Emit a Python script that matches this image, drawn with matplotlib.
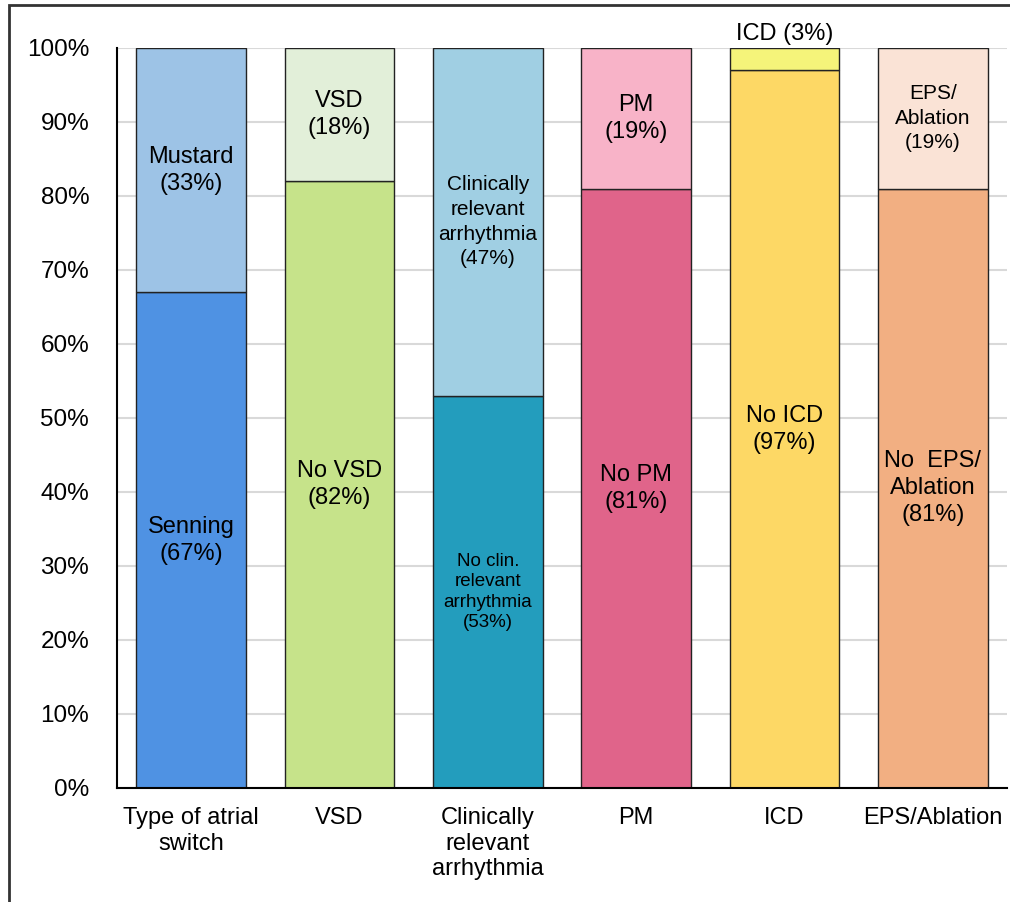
import matplotlib.pyplot as plt
from matplotlib.patches import Rectangle

plt.rcParams['font.family'] = ['Liberation Sans', 'DejaVu Sans']

categories = ['Type of atrial\nswitch', 'VSD', 'Clinically\nrelevant\narrhythmia', 'PM', 'ICD', 'EPS/Ablation']
lower_vals = [67, 82, 53, 81, 97, 81]
upper_vals = [33, 18, 47, 19, 3, 19]
lower_labels = ['Senning\n(67%)', 'No VSD\n(82%)', 'No clin.\nrelevant\narrhythmia\n(53%)',
                'No PM\n(81%)', 'No ICD\n(97%)', 'No  EPS/\nAblation\n(81%)']
upper_labels = ['Mustard\n(33%)', 'VSD\n(18%)', 'Clinically\nrelevant\narrhythmia\n(47%)',
                'PM\n(19%)', 'ICD (3%)', 'EPS/\nAblation\n(19%)']
lower_colors = ['#4f92e3', '#c6e38a', '#239dbd', '#e0648a', '#fdd865', '#f2af82']
upper_colors = ['#9dc3e6', '#e2efd9', '#a0cfe3', '#f8b3c8', '#f5f47a', '#fae3d6']

# label font sizes (pt) where they differ from the default
lower_sizes = {2: 13.5}
upper_sizes = {2: 15, 5: 15}

fig = plt.figure(figsize=(10.1, 9.02), dpi=100)
ax = fig.add_axes([0.1158, 0.1264, 0.8812, 0.8204])

x = list(range(len(categories)))
ax.bar(x, lower_vals, width=0.74, color=lower_colors, edgecolor='#222222', linewidth=1, zorder=2)
ax.bar(x, upper_vals, bottom=lower_vals, width=0.74, color=upper_colors,
       edgecolor='#222222', linewidth=1, zorder=2)

for i in x:
    size = lower_sizes.get(i, 17)
    ax.text(i, lower_vals[i] / 2, lower_labels[i], ha='center', va='center',
            fontsize=size, linespacing=1.25 if i == 2 else 1.3, zorder=3)
    size = upper_sizes.get(i, 17)
    if upper_vals[i] < 5:
        ax.text(i, 100.4, upper_labels[i], ha='center', va='bottom', fontsize=size,
                clip_on=False, zorder=3)
    else:
        ax.text(i, lower_vals[i] + upper_vals[i] / 2, upper_labels[i], ha='center',
                va='center', fontsize=size, linespacing=1.3 if size > 16 else 1.38, zorder=3)

ax.set_xlim(-0.5, 5.5)
ax.set_ylim(0, 100)
ax.set_yticks(range(0, 101, 10))
ax.set_yticklabels([f'{v}%' for v in range(0, 101, 10)], fontsize=17.5)
ax.set_xticks(x)
ax.set_xticklabels(categories, fontsize=17, linespacing=1.2, va='top')
ax.tick_params(axis='x', length=0, pad=14)
ax.tick_params(axis='y', length=0, pad=20)
ax.yaxis.grid(True, color='#d9d9d9', linewidth=1.5, zorder=0)
ax.set_axisbelow(True)
for s in ['top', 'right']:
    ax.spines[s].set_visible(False)
ax.spines['left'].set_linewidth(1.5)
ax.spines['bottom'].set_linewidth(1.5)

# figure frame (cropped on right/bottom in reference)
fig.patches.append(Rectangle((0.009, -0.05), 1.2, 1.044, transform=fig.transFigure,
                             fill=False, edgecolor='#333333', linewidth=2))

fig.savefig('out.png', dpi=100)
